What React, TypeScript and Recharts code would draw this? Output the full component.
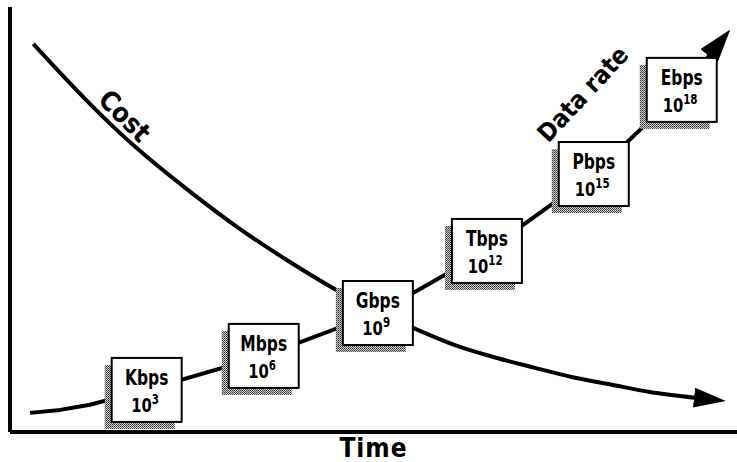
import React from 'react';
import { ComposedChart, Line, XAxis, YAxis, ReferenceDot } from 'recharts';

// Cost curve (time vs relative cost, 0-100 scale)
const costTime = [3.2, 6.9, 11, 14.4, 17.9, 24.8, 31.6, 38.5, 44.4, 50.9, 56.4, 61.6, 67, 72.2, 77.4, 82.8, 88, 94.5];
const costValue = [91.3, 84.5, 77.2, 71.5, 66.1, 56.5, 47.8, 40, 33.9, 28, 23.8, 20.2, 17.4, 15.1, 12.9, 11.1, 9.4, 8];

// Data rate line, boxes sit on the labelled points
const rateTime = [2.75, 6.9, 11, 18.8, 34.9, 50.6, 65.6, 80.3, 92.4, 96.4];
const rateValue = [4.5, 5.2, 6.4, 9.9, 17.9, 28, 42.6, 60.7, 80.5, 89];
const rateUnits = ['', '', '', 'Kbps', 'Mbps', 'Gbps', 'Tbps', 'Pbps', 'Ebps', ''];
const rateExponents = ['', '', '', '3', '6', '9', '12', '15', '18', ''];

const costData = costTime.map((t, i) => ({ t, cost: costValue[i] }));
const rateData = rateTime.map((t, i) => ({
  t,
  rate: rateValue[i],
  unit: rateUnits[i],
  exp: rateExponents[i],
}));

const FONT = "'Liberation Sans Narrow', 'DejaVu Sans Condensed', 'Arial Narrow', sans-serif";
const BOX_W = 70;
const BOX_H = 64;

const squeeze = (cx: number, k = 0.82) => `translate(${cx} 0) scale(${k} 1) translate(${-cx} 0)`;

const RateBox = (props: any) => {
  const { cx, cy, payload, index } = props;
  if (!payload || !payload.unit) return <g key={`b-${index}`} />;
  const x = cx - BOX_W / 2;
  const y = cy - BOX_H / 2;
  return (
    <g key={`b-${index}`}>
      <rect x={x - 7} y={y + 7} width={BOX_W} height={BOX_H} fill="url(#halftone) #999" />
      <rect x={x} y={y} width={BOX_W} height={BOX_H} fill="#fff" stroke="#000" strokeWidth={2} />
      <text
        x={cx}
        y={cy - 5}
        transform={squeeze(cx)}
        textAnchor="middle"
        fontFamily={FONT}
        fontWeight="bold"
        fontSize={21}
        fill="#000"
      >
        {payload.unit}
      </text>
      <text
        x={cx - 2}
        y={cy + 22}
        transform={squeeze(cx)}
        textAnchor="middle"
        fontFamily={FONT}
        fontWeight="bold"
        fontSize={20}
        fill="#000"
      >
        10
        <tspan fontSize={14} dy={-8}>
          {payload.exp}
        </tspan>
      </text>
    </g>
  );
};

const rotatedLabel = (text: string, angle: number, size: number) => (props: any) => (
  <text
    x={props.cx}
    y={props.cy}
    transform={`rotate(${angle} ${props.cx} ${props.cy})`}
    textAnchor="middle"
    dominantBaseline="central"
    fontFamily={FONT}
    fontWeight="bold"
    fontSize={size}
    fill="#000"
  >
    {text}
  </text>
);

export default function App() {
  return (
    <div style={{ position: 'absolute', left: 0, top: 0, background: '#fff' }}>
      <ComposedChart width={737} height={462} margin={{ top: 7, right: 0, bottom: 0, left: 0 }}>
        <defs>
          <pattern id="halftone" width="2" height="2" patternUnits="userSpaceOnUse">
            <rect width="2" height="2" fill="#d0d0d0" />
            <rect width="1" height="1" fill="#333" />
            <rect x="1" y="1" width="1" height="1" fill="#555" />
          </pattern>
          <marker id="arrowCost" viewBox="0 0 32 20" refX="3" refY="10" markerWidth="32" markerHeight="20" orient="auto" markerUnits="userSpaceOnUse">
            <path d="M0,0 L32,10 L0,20 Z" fill="#000" />
          </marker>
          <marker id="arrowRate" viewBox="0 0 34 22" refX="3" refY="11" markerWidth="34" markerHeight="22" orient="auto" markerUnits="userSpaceOnUse">
            <path d="M0,0 L34,11 L0,22 Z" fill="#000" />
          </marker>
        </defs>
        <XAxis
          type="number"
          dataKey="t"
          domain={[0, 100]}
          tick={false}
          tickLine={false}
          height={30}
          axisLine={{ stroke: '#000', strokeWidth: 4 }}
          label={{
            value: 'Time',
            position: 'insideBottom',
            offset: 5,
            style: { fontFamily: FONT, fontWeight: 'bold', fontSize: 26, letterSpacing: 1, fill: '#000' },
          }}
        />
        <YAxis
          type="number"
          domain={[0, 100]}
          tick={false}
          tickLine={false}
          width={10}
          axisLine={{ stroke: '#000', strokeWidth: 4 }}
        />
        <Line
          data={costData}
          dataKey="cost"
          type="monotone"
          stroke="#000"
          strokeWidth={4}
          dot={false}
          activeDot={false}
          markerEnd="url(#arrowCost)"
          isAnimationActive={false}
        />
        <Line
          data={rateData}
          dataKey="rate"
          type="linear"
          stroke="#000"
          strokeWidth={4}
          strokeLinejoin="round"
          dot={RateBox}
          activeDot={false}
          markerEnd="url(#arrowRate)"
          isAnimationActive={false}
        />
        <ReferenceDot x={15.8} y={74.4} r={0} shape={rotatedLabel('Cost', 45, 27)} />
        <ReferenceDot x={78.8} y={79.5} r={0} shape={rotatedLabel('Data rate', -47, 25)} />
      </ComposedChart>
    </div>
  );
}
